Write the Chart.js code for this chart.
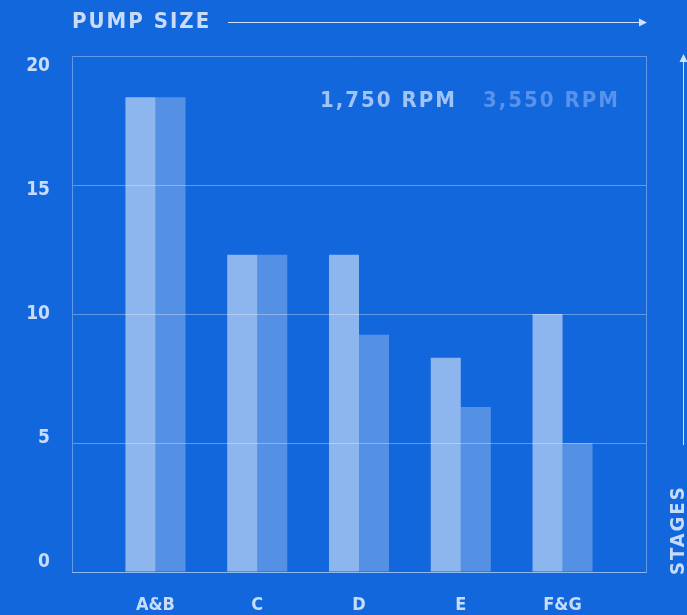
<!DOCTYPE html>
<html>
<head>
<meta charset="utf-8">
<script src="https://cdn.jsdelivr.net/npm/chart.js@4"></script>
<style>
  html, body { margin: 0; padding: 0; background: #1367dc; }
  #wrap { width: 687px; height: 615px; }
</style>
</head>
<body>
<div id="wrap"><canvas id="pumpChart" width="687" height="615"></canvas></div>
<script>
const pumpSizes = ['A&B', 'C', 'D', 'E', 'F&G'];
const rpm1750 = [18.4, 12.3, 12.3, 8.3, 10];
const rpm3550 = [18.4, 12.3, 9.2, 6.4, 5];
const seriesNames = ['1,750 RPM', '3,550 RPM'];
const stageTicks = [0, 5, 10, 15, 20];

const FONT = '"DejaVu Sans Condensed", "DejaVu Sans", sans-serif';
const lineCol = 'rgba(255, 255, 255, 0.32)';
const textCol = 'rgb(200, 220, 250)';
const lightBar = 'rgba(255, 255, 255, 0.52)';
const darkBar = 'rgba(255, 255, 255, 0.28)';

function toPoints(values){
    return values.map((v, i) => ({ x: i, y: v }));
}

// frame, arrows, legend and axis names
const decorations = {
    id: 'decorations',
    afterDraw(chart){
        const c = chart.ctx;
        const a = chart.chartArea;
        c.save();
        c.strokeStyle = lineCol;
        c.lineWidth = 1;
        c.beginPath();
        c.moveTo(a.right + 0.5, a.top);
        c.lineTo(a.right + 0.5, a.bottom);
        c.stroke();

        c.letterSpacing = '2px';
        c.font = 'bold 22px ' + FONT;
        c.fillStyle = textCol;
        c.textBaseline = 'middle';
        c.textAlign = 'left';
        c.fillText('PUMP SIZE', 72, 22);

        c.strokeStyle = 'rgba(230, 240, 255, 0.9)';
        c.fillStyle = 'rgba(230, 240, 255, 0.9)';
        c.beginPath();
        c.moveTo(228, 22.5);
        c.lineTo(640, 22.5);
        c.stroke();
        c.beginPath();
        c.moveTo(647, 22.5);
        c.lineTo(639, 18.5);
        c.lineTo(639, 26.5);
        c.closePath();
        c.fill();

        c.beginPath();
        c.moveTo(683.5, 445);
        c.lineTo(683.5, 60);
        c.stroke();
        c.beginPath();
        c.moveTo(683.5, 54);
        c.lineTo(679.5, 62);
        c.lineTo(687.5, 62);
        c.closePath();
        c.fill();

        c.translate(679, 575);
        c.rotate(-Math.PI / 2);
        c.font = 'bold 20px ' + FONT;
        c.fillStyle = textCol;
        c.textAlign = 'left';
        c.fillText('STAGES', 0, 0);
        c.restore();

        c.save();
        c.letterSpacing = '2px';
        c.font = 'bold 22px ' + FONT;
        c.textBaseline = 'middle';
        c.textAlign = 'left';
        c.fillStyle = 'rgb(160, 196, 245)';
        c.fillText(seriesNames[0], 320, 101);
        c.fillStyle = 'rgb(88, 146, 234)';
        c.fillText(seriesNames[1], 483, 101);
        c.restore();
    }
};

new Chart(document.getElementById('pumpChart'), {
    type: 'bar',
    data: {
        datasets: [{
            label: seriesNames[0],
            data: toPoints(rpm1750),
            backgroundColor: lightBar
        }, {
            label: seriesNames[1],
            data: toPoints(rpm3550),
            backgroundColor: darkBar
        }]
    },
    options: {
        responsive: false,
        animation: false,
        layout: {
            padding: { top: 56, right: 41, left: 0, bottom: 0 }
        },
        datasets: {
            bar: {
                categoryPercentage: 0.59,
                barPercentage: 1,
                borderWidth: 0
            }
        },
        scales: {
            x: {
                type: 'linear',
                offset: false,
                min: -0.82,
                max: 4.82,
                afterBuildTicks(scale){
                    scale.ticks = pumpSizes.map((_, i) => ({ value: i }));
                },
                afterFit(scale){
                    scale.height = 43;
                },
                grid: { display: false, drawTicks: false, offset: false },
                border: { display: true, color: lineCol },
                ticks: {
                    padding: 23,
                    color: textCol,
                    font: { family: FONT, size: 18, weight: 'bold' },
                    callback: (value) => pumpSizes[value]
                }
            },
            y: {
                min: 0,
                max: 20,
                afterBuildTicks(scale){
                    scale.ticks = stageTicks.map(v => ({ value: v }));
                },
                afterFit(scale){
                    scale.width = 0;
                },
                grid: { color: lineCol, drawTicks: false },
                border: { display: true, color: lineCol },
                ticks: { display: false }
            },
            // tick labels sit slightly inside the frame in the original
            yLabels: {
                type: 'linear',
                position: 'left',
                min: -0.4,
                max: 20.4,
                afterBuildTicks(scale){
                    scale.ticks = stageTicks.map(v => ({ value: v }));
                },
                afterFit(scale){
                    scale.width = 72;
                },
                grid: { display: false, drawTicks: false },
                border: { display: false },
                ticks: {
                    padding: 22,
                    color: textCol,
                    font: { family: FONT, size: 19, weight: 'bold' }
                }
            }
        },
        plugins: {
            legend: { display: false },
            tooltip: { enabled: false }
        }
    },
    plugins: [decorations]
});
</script>
</body>
</html>
